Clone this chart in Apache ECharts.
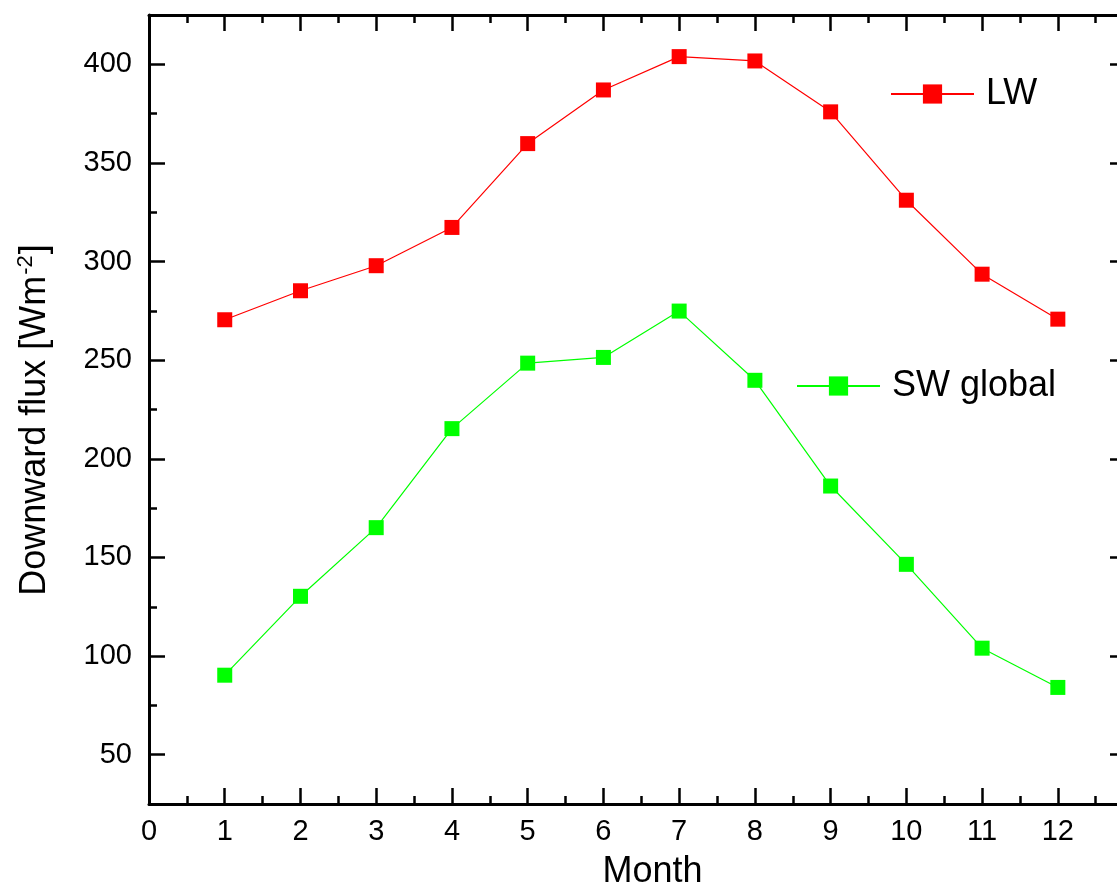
<!DOCTYPE html>
<html>
<head>
<meta charset="utf-8">
<script src="https://cdn.jsdelivr.net/npm/echarts@6/dist/echarts.min.js"></script>
<style>
  html, body { margin: 0; padding: 0; background: #fff; }
  #chart { width: 1117px; height: 892px; }
</style>
</head>
<body>
<div id="chart"></div>
<script>
// Monthly mean downward fluxes
const months = [1, 2, 3, 4, 5, 6, 7, 8, 9, 10, 11, 12];
const lwFlux = [270.5, 285.2, 297.9, 317.3, 359.8, 387.0, 403.9, 401.7, 375.9, 331.1, 293.6, 270.8];
const swGlobal = [90.3, 130.3, 165.1, 215.3, 248.5, 251.4, 274.9, 239.8, 186.2, 146.5, 104.0, 84.1];

// Axis ticks and labels
const xMajorTicks = [0, 1, 2, 3, 4, 5, 6, 7, 8, 9, 10, 11, 12];
const xMinorTicks = [0.5, 1.5, 2.5, 3.5, 4.5, 5.5, 6.5, 7.5, 8.5, 9.5, 10.5, 11.5, 12.5];
const yMajorTicks = [50, 100, 150, 200, 250, 300, 350, 400];
const yMinorTicks = [75, 125, 175, 225, 275, 325, 375];

const FONT = '"Liberation Sans", Arial, sans-serif';
const AXIS_COLOR = '#000';

const lineStyleAxis = { color: AXIS_COLOR, width: 3 };

function xAxisDef(position, ticks, len, showLine, showLabel, extra) {
  return Object.assign({
    type: 'value',
    position: position,
    min: 0,
    max: 12.9,
    axisLine: { show: showLine, onZero: false, lineStyle: lineStyleAxis },
    axisTick: { show: true, inside: true, length: len, customValues: ticks,
                lineStyle: { color: AXIS_COLOR, width: 2.5 } },
    axisLabel: { show: showLabel, customValues: xMajorTicks, margin: 13,
                 fontSize: 29, color: '#000', fontFamily: FONT },
    splitLine: { show: false }
  }, extra || {});
}

function yAxisDef(position, ticks, len, showLine, showLabel, extra) {
  return Object.assign({
    type: 'value',
    position: position,
    min: 25,
    max: 425,
    axisLine: { show: showLine, onZero: false, lineStyle: lineStyleAxis },
    axisTick: { show: true, inside: true, length: len, customValues: ticks,
                lineStyle: { color: AXIS_COLOR, width: 2.5 } },
    axisLabel: { show: showLabel, customValues: yMajorTicks, margin: 17,
                 fontSize: 29, color: '#000', fontFamily: FONT },
    splitLine: { show: false }
  }, extra || {});
}

const chart = echarts.init(document.getElementById('chart'), null, { renderer: 'canvas' });

const option = {
  backgroundColor: '#fff',
  animation: false,
  grid: { left: 149, top: 15, width: 977, height: 789, containLabel: false, outerBoundsMode: 'none' },
  legend: [
    {
      data: ['LW'],
      left: 890, top: 76,
      itemWidth: 83, itemHeight: 24,
      padding: 0,
      textStyle: { fontSize: 36, color: '#000', fontFamily: FONT, padding: [0, 0, 0, 7] }
    },
    {
      data: ['SW global'],
      left: 796, top: 368,
      itemWidth: 83, itemHeight: 24,
      padding: 0,
      textStyle: { fontSize: 36, color: '#000', fontFamily: FONT, padding: [0, 0, 0, 7] }
    }
  ],
  xAxis: [
    xAxisDef('bottom', xMajorTicks, 16, true, true, {
      name: 'Month',
      nameLocation: 'middle',
      nameGap: 50,
      nameTextStyle: { fontSize: 36, color: '#000', fontFamily: FONT, padding: [0, 0, 0, 30] }
    }),
    xAxisDef('bottom', xMinorTicks, 8, false, false),
    xAxisDef('top', xMajorTicks, 16, true, false),
    xAxisDef('top', xMinorTicks, 8, false, false)
  ],
  yAxis: [
    yAxisDef('left', yMajorTicks, 16, true, true, {
      name: '{m|Downward flux [Wm}{s|-2}{m|]}',
      nameLocation: 'middle',
      nameGap: 94,
      nameRotate: 90,
      nameTextStyle: {
        padding: [0, 21, 0, 0],
        rich: {
          m: { fontSize: 36, color: '#000', fontFamily: FONT, lineHeight: 40 },
          s: { fontSize: 22, color: '#000', fontFamily: FONT, verticalAlign: 'top', lineHeight: 40, padding: [0, 1, 14, 1] }
        }
      }
    }),
    yAxisDef('left', yMinorTicks, 8, false, false),
    yAxisDef('right', yMajorTicks, 16, true, false),
    yAxisDef('right', yMinorTicks, 8, false, false)
  ],
  series: [
    {
      name: 'LW',
      type: 'line',
      xAxisIndex: 0, yAxisIndex: 0,
      data: months.map((m, i) => [m, lwFlux[i]]),
      symbol: 'rect',
      symbolSize: 15,
      color: '#ff0000',
      lineStyle: { color: '#ff0000', width: 1.2 },
      itemStyle: { color: '#ff0000' }
    },
    {
      name: 'SW global',
      type: 'line',
      xAxisIndex: 0, yAxisIndex: 0,
      data: months.map((m, i) => [m, swGlobal[i]]),
      symbol: 'rect',
      symbolSize: 15,
      color: '#00ff00',
      lineStyle: { color: '#00ff00', width: 1.2 },
      itemStyle: { color: '#00ff00' }
    }
  ]
};

chart.setOption(option);
</script>
</body>
</html>
